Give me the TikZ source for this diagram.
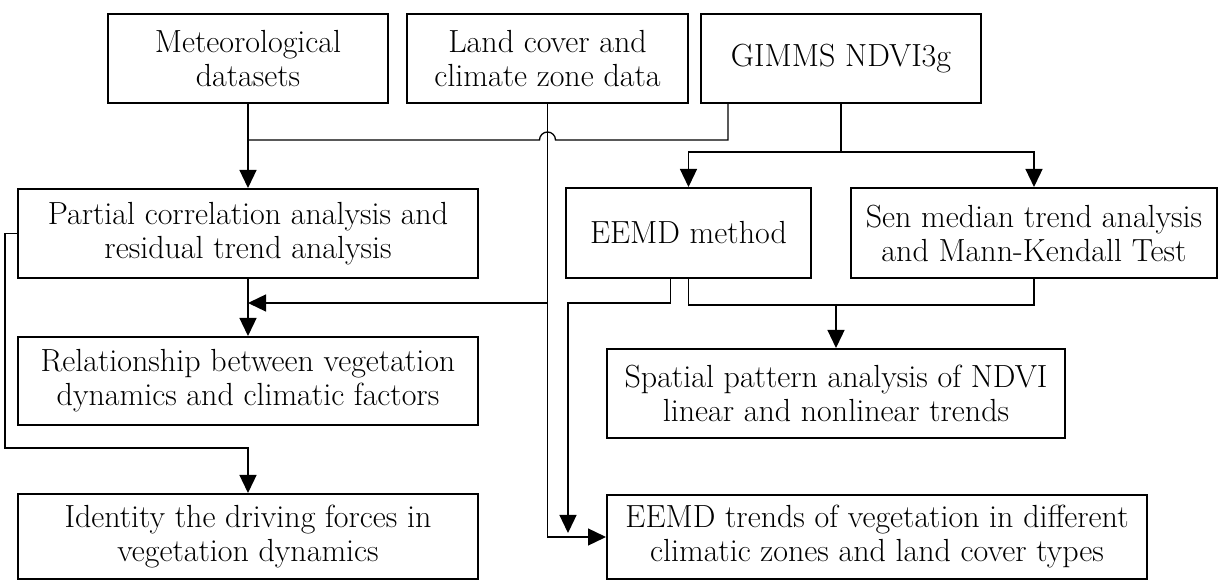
\documentclass[tikz,border=0pt]{standalone}
\usetikzlibrary{arrows.meta}
\begin{document}
\begin{tikzpicture}[x=0.5pt,y=-0.5pt,
  box/.style={draw, line width=1pt, align=center, inner sep=0pt, font=\fontsize{16}{17}\selectfont},
  conn/.style={line width=0.65pt},
  arr/.style={conn, -{Triangle[width=8.5pt,length=9pt]}}]
\useasboundingbox (0,0) rectangle (1219,581);
% boxes
\node[box, minimum width=140pt, minimum height=44.5pt] (met) at (248,58.5) {Meteorological\\datasets};
\node[box, minimum width=140.5pt, minimum height=44.5pt] (land) at (547.5,58.5) {Land cover and\\climate zone data};
\node[box, minimum width=140pt, minimum height=44.5pt] (gimms) at (841,58.5) {GIMMS NDVI3g};
\node[box, minimum width=230pt, minimum height=44.5pt] (partial) at (248,233.5) {Partial correlation analysis and\\residual trend analysis};
\node[box, minimum width=122.5pt, minimum height=45pt] (eemd) at (688.5,233) {EEMD method};
\node[box, minimum width=183pt, minimum height=45pt] (sen) at (1034,233) {Sen median trend analysis\\and Mann-Kendall Test};
\node[box, minimum width=230pt, minimum height=44pt] (rel) at (248,381) {Relationship between vegetation\\dynamics and climatic factors};
\node[box, minimum width=230pt, minimum height=42.5pt] (ident) at (248,536.5) {Identity the driving forces in\\vegetation dynamics};
\node[box, minimum width=229pt, minimum height=44.5pt] (spatial) at (836,393.5) {Spatial pattern analysis of NDVI\\linear and nonlinear trends};
\node[box, minimum width=270pt, minimum height=42pt] (trends) at (877,537) {EEMD trends of vegetation in different\\climatic zones and land cover types};
% junction coordinates
\coordinate (j1) at (248,140);
\coordinate (j5) at (248,303);
\coordinate (j3) at (836,304);
\coordinate (tipA) at (568,533);
% connectors
\draw[arr] (met.south) -- (partial.north);
\draw[conn] ([xshift=14pt]gimms.south west) |- ([xshift=4pt]land.south |- j1)
  arc[start angle=0,end angle=180,radius=4pt] -- (j1);
\draw[arr] (gimms.south) -- ++(0,48) -| (eemd.north);
\draw[arr] (gimms.south) -- ++(0,48) -| (sen.north);
\draw[arr] ([xshift=-9pt]eemd.south) -- ++(0,24) -| (tipA);
\draw[conn] (eemd.south) -- ++(0,26) -| (sen.south);
\draw[arr] (j3) -- (spatial.north);
\draw[arr] (land.south) |- (trends.west);
\draw[arr] (j5 -| land.south) -- (j5);
\draw[arr] (partial.south) -- (rel.north);
\draw[arr] (partial.west) -- ++(-12,0) |- ([yshift=22.5pt]ident.north) -- (ident.north);
\end{tikzpicture}
\end{document}
